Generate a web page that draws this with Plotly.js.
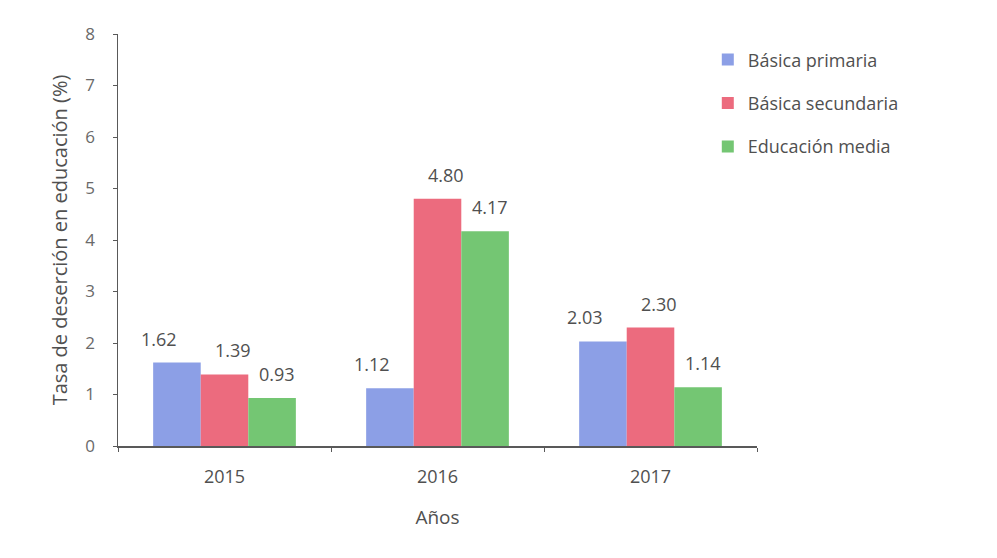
<!DOCTYPE html>
<html>
<head>
<meta charset="utf-8">
<script src="https://cdn.plot.ly/plotly-3.0.1.min.js"></script>
<style>html,body{margin:0;padding:0;background:#fff;}#chart{width:997px;height:558px;}</style>
</head>
<body>
<div id="chart"></div>
<script>
const years = ["2015", "2016", "2017"];
const seriesNames = ["Básica primaria", "Básica secundaria", "Educación media"];
const primaria = [1.62, 1.12, 2.03];
const secundaria = [1.39, 4.80, 2.30];
const media = [0.93, 4.17, 1.14];
const yTicks = [0, 1, 2, 3, 4, 5, 6, 7, 8];

const colors = ["#8c9fe6", "#ec6b7e", "#74c673"];
const values = [primaria, secundaria, media];
const xShifts = [-66, 8, 52];
const FONT = "'Open Sans', Lato, sans-serif";
const TXT = "#505050";

const traces = values.map((v, i) => ({
  type: "bar",
  name: seriesNames[i],
  legendgroup: "g" + i,
  x: years,
  y: v,
  marker: {color: colors[i]},
  hoverinfo: "skip"
}));

const annotations = [];
values.forEach((v, i) => {
  v.forEach((val, j) => {
    annotations.push({
      x: j, y: val, xref: "x", yref: "y",
      text: val.toFixed(2), showarrow: false,
      xshift: xShifts[i], yshift: 24,
      font: {family: FONT, size: 18, color: TXT}
    });
  });
});

const layout = {
  width: 997, height: 558,
  margin: {l: 118, r: 240, t: 34, b: 112},
  paper_bgcolor: "#ffffff", plot_bgcolor: "#ffffff",
  barmode: "group", bargap: 0.33, bargroupgap: 0,
  font: {family: FONT, size: 16, color: TXT},
  showlegend: true,
  legend: {
    x: 0.923, y: 0.982, xanchor: "left", yanchor: "top",
    font: {family: FONT, size: 18, color: TXT},
    itemwidth: 30, tracegroupgap: 17, bgcolor: "rgba(0,0,0,0)"
  },
  xaxis: {
    type: "category",
    range: [-0.5, 2.5],
    tickson: "boundaries",
    ticks: "outside", ticklen: 4, tickcolor: "#595959",
    showline: true, linecolor: "#595959", linewidth: 1.5,
    showgrid: false, zeroline: false,
    tickfont: {family: FONT, size: 18, color: TXT},
    ticklabelstandoff: 14,
    title: {text: "Años", font: {family: FONT, size: 19, color: TXT}, standoff: 23}
  },
  yaxis: {
    range: [0, 8],
    tickvals: yTicks,
    ticks: "outside", ticklen: 4, tickcolor: "#595959",
    showline: true, linecolor: "#595959", linewidth: 1.5,
    showgrid: false, zeroline: false,
    tickfont: {family: FONT, size: 17, color: "#6a6a6a"},
    ticklabelstandoff: 14,
    title: {text: "Tasa de deserción en educación (%)", font: {family: FONT, size: 20, color: TXT}, standoff: 12}
  },
  annotations: annotations
};

Plotly.newPlot("chart", traces, layout, {displayModeBar: false, staticPlot: true});
</script>
</body>
</html>
